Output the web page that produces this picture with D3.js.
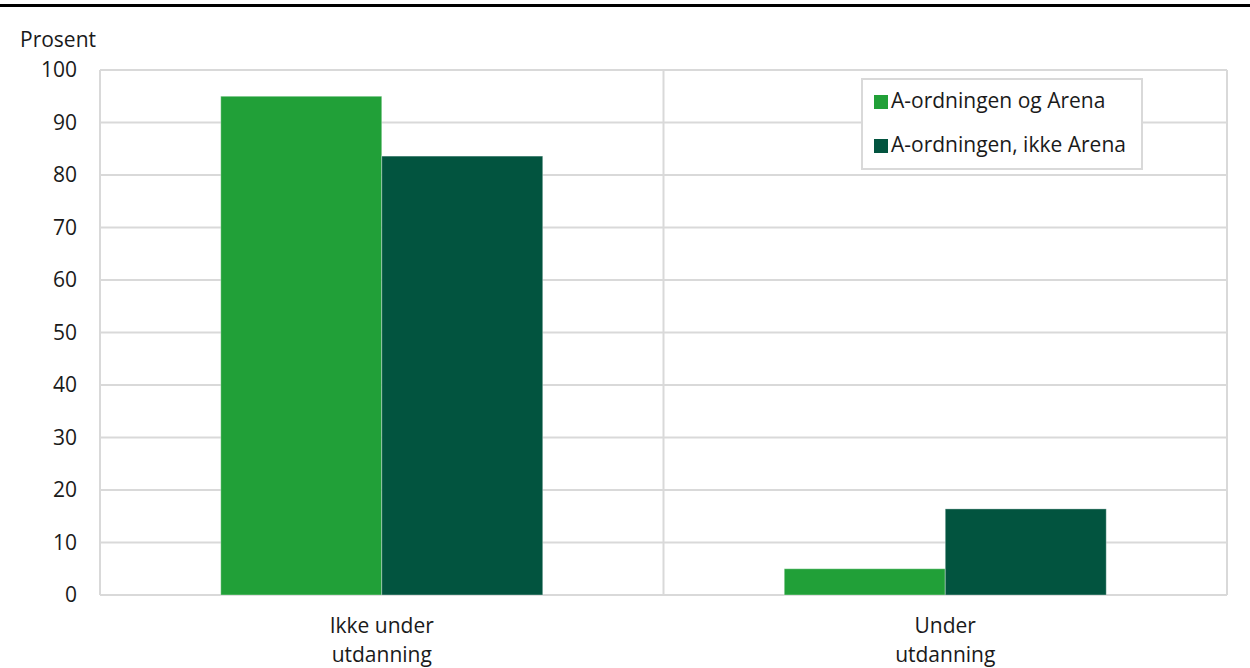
<!DOCTYPE html>
<html><head><meta charset="utf-8">
<script src="https://cdn.jsdelivr.net/npm/d3@7"></script>
<style>body{margin:0;background:#fff}svg{display:block}text{font-family:"Open Sans",sans-serif;fill:#1a1a1a}</style>
</head><body>
<script>
const categories = ["Ikke under\nutdanning", "Under\nutdanning"];
const seriesNames = ["A-ordningen og Arena", "A-ordningen, ikke Arena"];
const seriesA = [95, 5];
const seriesB = [83.6, 16.4];
const yTicks = [0, 10, 20, 30, 40, 50, 60, 70, 80, 90, 100];
const colors = ["#21a038", "#02543f"];

const W = 1250, H = 668;
const FS = "21px";
const m = {left: 100, right: 1227, top: 70, bottom: 595};
const svg = d3.select("body").append("svg").attr("width", W).attr("height", H);

svg.append("rect").attr("x", 0).attr("y", 4).attr("width", W).attr("height", 3).attr("fill", "#000");

const y = d3.scaleLinear().domain([0, 100]).range([m.bottom, m.top]);
const x0 = d3.scaleBand().domain(categories).range([m.left, m.right]).paddingInner(0.4286).paddingOuter(0.2143);
const x1 = d3.scaleBand().domain([0, 1]).range([0, x0.bandwidth()]);

const grid = svg.append("g");
grid.selectAll("line.h").data(yTicks).join("line")
  .attr("x1", m.left).attr("x2", m.right)
  .attr("y1", d => y(d)).attr("y2", d => y(d))
  .attr("stroke", "#d9d9d9").attr("stroke-width", 2);
const step = x0.step();
const vx = [m.left, m.left + step, m.right];
grid.selectAll("line.v").data(vx).join("line")
  .attr("x1", d => d).attr("x2", d => d)
  .attr("y1", m.top).attr("y2", m.bottom)
  .attr("stroke", "#d9d9d9").attr("stroke-width", 2);

const yAxis = d3.axisLeft(y).tickValues(yTicks).tickSize(0).tickPadding(0);
const ya = svg.append("g").attr("transform", `translate(${m.left - 23},0)`).call(yAxis);
ya.select(".domain").remove();
ya.selectAll("text").style("font-size", FS).style("font-family", "'Open Sans',sans-serif").attr("fill", "#1a1a1a");

svg.append("text").attr("x", 20).attr("y", 47).style("font-size", FS).text("Prosent");

const series = [seriesA, seriesB];
series.forEach((vals, si) => {
  svg.append("g").selectAll("rect").data(vals).join("rect")
    .attr("x", (d, i) => x0(categories[i]) + x1(si))
    .attr("width", x1.bandwidth())
    .attr("y", d => y(d))
    .attr("height", d => y(0) - y(d))
    .attr("fill", colors[si])
    .attr("stroke", "rgba(255,255,255,0.35)").attr("stroke-width", 1);
});

const xl = svg.append("g");
categories.forEach(c => {
  const cx = x0(c) + x0.bandwidth() / 2;
  const t = xl.append("text").attr("text-anchor", "middle").style("font-size", FS)
    .attr("x", cx).attr("y", 633);
  c.split("\n").forEach((line, i) => t.append("tspan").attr("x", cx).attr("dy", i ? 29 : 0).text(line));
});

const lg = svg.append("g");
lg.append("rect").attr("x", 862).attr("y", 79).attr("width", 280).attr("height", 90)
  .attr("fill", "#fff").attr("stroke", "#d9d9d9").attr("stroke-width", 2);
seriesNames.forEach((n, i) => {
  lg.append("rect").attr("x", 874).attr("y", 95 + i * 44).attr("width", 14).attr("height", 14).attr("fill", colors[i]);
  lg.append("text").attr("x", 891).attr("y", 108 + i * 44).style("font-size", FS).text(n);
});
</script>
</body></html>
